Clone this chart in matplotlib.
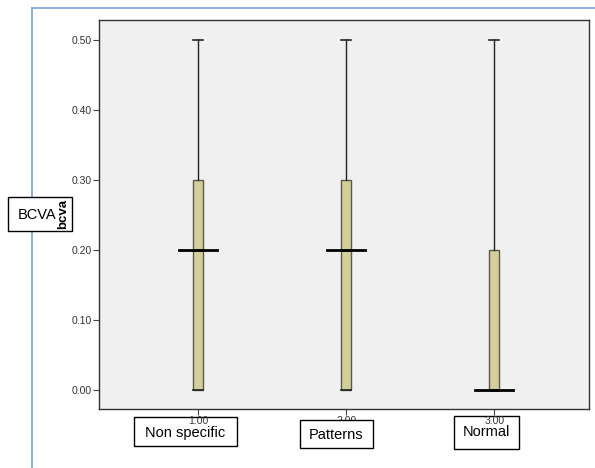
import matplotlib.pyplot as plt
from matplotlib.lines import Line2D

plt.rcParams['font.family'] = ['Liberation Sans', 'DejaVu Sans']

# data
groups = [1.0, 2.0, 3.0]
group_names = ['Non specific', 'Patterns', 'Normal']
whis_low = [0.0, 0.0, 0.0]
q1 = [0.0, 0.0, 0.0]
medians = [0.20, 0.20, 0.0]
q3 = [0.30, 0.30, 0.20]
whis_high = [0.50, 0.50, 0.50]
y_ticks = [0.0, 0.1, 0.2, 0.3, 0.4, 0.5]

W, H = 595, 468
fig = plt.figure(figsize=(W / 100, H / 100), dpi=100)


def fx(px):
    return px / W


def fy(py):
    return 1 - py / H


# plot area in pixel coords
left, right, top, bottom = 99, 589, 20, 409
ax = fig.add_axes([fx(left), fy(bottom), fx(right - left), (bottom - top) / H])
ax.set_facecolor('#f0f0f0')

stats = []
for i in range(len(groups)):
    stats.append({'med': medians[i], 'q1': q1[i], 'q3': q3[i],
                  'whislo': whis_low[i], 'whishi': whis_high[i], 'fliers': []})

ax.bxp(stats, positions=groups, widths=0.068, patch_artist=True,
       showfliers=False,
       boxprops=dict(facecolor='#d4cf99', edgecolor='#5a5a4a', linewidth=1.0),
       whiskerprops=dict(color='#222222', linewidth=1.0),
       capprops=dict(color='#222222', linewidth=1.2),
       medianprops=dict(color='black', linewidth=2.0),
       capwidths=0.07)

# wider median bars like the original
for i, g in enumerate(groups):
    ax.add_line(Line2D([g - 0.128, g + 0.128], [medians[i], medians[i]],
                       color='black', linewidth=2.0, zorder=5))

ax.set_xlim(0.331, 3.64)
ax.set_ylim(-0.0271, 0.5286)
ax.set_yticks(y_ticks)
ax.set_yticklabels(['%.2f' % v for v in y_ticks])
ax.set_xticks(groups)
ax.set_xticklabels(['%.2f' % v for v in groups])
ax.tick_params(axis='both', labelsize=7.5, length=4, width=0.8,
               color='#444444', labelcolor='#333333', pad=1)
for s in ax.spines.values():
    s.set_color('#333333')
    s.set_linewidth(1.0)

# outer blue frame
fig.add_artist(Line2D([fx(32), 1.0], [fy(8), fy(8)], color='#7aa0d4', linewidth=1.2))
fig.add_artist(Line2D([fx(32), fx(32)], [fy(8), 0.0], color='#7aa0d4', linewidth=1.2))

# y title box
fig.patches.append(plt.Rectangle((fx(8), fy(231)), fx(64), (231 - 197) / H,
                                 transform=fig.transFigure, facecolor='white',
                                 edgecolor='black', linewidth=1.0, zorder=10))
fig.text(fx(37), fy(215), 'BCVA', fontsize=10.5, ha='center', va='center', zorder=11)
fig.text(fx(63), fy(214), 'bcva', fontsize=9.5, fontweight='bold', rotation=90,
         ha='center', va='center', zorder=11)

# category boxes; the tick labels show through the first and last ones
cat_boxes = [(134, 237, 417, 446), (300, 373, 420, 448), (454, 519, 416, 449)]
cat_text_y = [433, 435, 432]
box_z = [-1, 10, -1]
for name, (x0, x1, y0, y1), ty, z in zip(group_names, cat_boxes, cat_text_y, box_z):
    fig.patches.append(plt.Rectangle((fx(x0), fy(y1)), fx(x1 - x0), (y1 - y0) / H,
                                     transform=fig.transFigure, facecolor='white',
                                     edgecolor='black', linewidth=1.0, zorder=z))
    fig.text(fx((x0 + x1) / 2), fy(ty), name, fontsize=10.5, ha='center',
             va='center', zorder=z + 0.5)

fig.savefig('out.png', dpi=100)
